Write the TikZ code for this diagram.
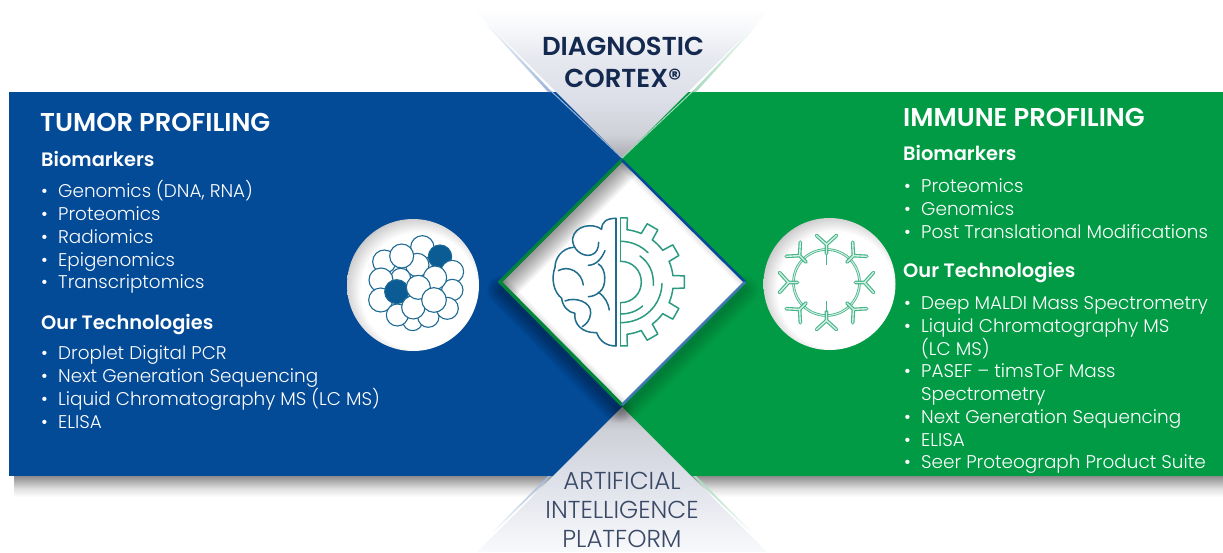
\documentclass[tikz,border=0pt]{standalone}
\usepackage{fontspec}
\setmainfont{Poppins Light}[BoldFont={Poppins SemiBold}]
\definecolor{bluefill}{HTML}{034A97}
\definecolor{greenfill}{HTML}{029B45}
\definecolor{navy}{HTML}{14294F}
\definecolor{slate}{HTML}{3A4A66}
\definecolor{iconblue}{HTML}{1F6C8C}
\definecolor{icongreen}{HTML}{2B9A80}
\definecolor{cellline}{HTML}{1E6A95}
\definecolor{celldark}{HTML}{0B5B94}
\definecolor{edgeblue}{HTML}{9DB5D8}
\definecolor{edgegreen}{HTML}{A5D8BC}
\definecolor{abouter}{HTML}{45B58A}
\definecolor{abinner}{HTML}{D5EFE3}
\definecolor{triA}{HTML}{A9A9AF}
\definecolor{triB}{HTML}{CFD1D8}
\definecolor{triC}{HTML}{DCDFE8}
\definecolor{triD}{HTML}{E6E8EF}
\definecolor{triE}{HTML}{F8F9FB}
\pgfdeclareverticalshading{topfade}{100bp}{color(0bp)=(triA); color(25bp)=(triA); color(32.7bp)=(triB); color(44.3bp)=(triC); color(57.7bp)=(triD); color(69bp)=(triE); color(75bp)=(white); color(100bp)=(white)}
\pgfdeclareverticalshading{botfade}{100bp}{color(0bp)=(white); color(25bp)=(triE); color(36bp)=(triD!70!white); color(51bp)=(triC); color(67bp)=(triB); color(75bp)=(triA); color(100bp)=(triA)}
\pgfdeclareverticalshading{undershadow}{100bp}{color(0bp)=(white); color(25bp)=(white); color(45bp)=(white!88!black); color(75bp)=(white!55!black); color(100bp)=(white!55!black)}
\pgfdeclareradialshading{wellshade}{\pgfpoint{4bp}{-4bp}}{color(0bp)=(white); color(22bp)=(white); color(27bp)=(white!82!black); color(31bp)=(white!58!black); color(50bp)=(white!58!black)}
\tikzset{
  lst/.style={anchor=base west,text=white,inner sep=0pt,font=\fontsize{18.4}{20}\selectfont},
  subhead/.style={anchor=base west,text=white,inner sep=0pt,font=\fontsize{19.4}{20}\selectfont\bfseries},
  ttl/.style={anchor=base west,text=white,inner sep=0pt,font=\fontsize{25.8}{26}\selectfont\bfseries},
  capbold/.style={anchor=base,text=navy,inner sep=0pt,font=\fontsize{26}{26}\selectfont\bfseries},
  capthin/.style={anchor=base,text=slate,inner sep=0pt,font=\fontsize{24.5}{26}\selectfont},
  brainline/.style={draw=iconblue,line width=1.5pt,line cap=round,line join=round},
  gearline/.style={draw=icongreen,line width=1.5pt,line cap=round,line join=round},
  cell/.style={draw=cellline,line width=1.1pt,fill=white},
  darkcell/.style={draw=cellline,line width=1.1pt,fill=celldark}
}
\newcommand{\bul}{\makebox[17pt][l]{•}}
\begin{document}
\begin{tikzpicture}[x=1pt,y=-1pt]
\useasboundingbox (0,0) rectangle (1223,552);
% shadow beneath panels
\shade[shading=undershadow] (14,476) rectangle (1223,497);
% panels
\fill[bluefill] (9,92) rectangle (623,476);
\fill[greenfill] (622,92) rectangle (1223,476);
% top triangle
\shade[shading=topfade] (472,8) -- (772,8) -- (622,158) -- cycle;
\shade[top color=white,bottom color=edgeblue] (484,20) -- (552,92) -- (548,92) -- (482,20) -- cycle;
\shade[top color=white,bottom color=edgegreen] (760,20) -- (692,92) -- (696,92) -- (762,20) -- cycle;
\draw[edgeblue,line width=1pt] (551,91) -- (622,158);
\draw[edgegreen,line width=1pt] (693,91) -- (622,158);
% bottom triangle
\shade[shading=botfade] (622,407) -- (767,552) -- (477,552) -- cycle;
\shade[top color=edgeblue,bottom color=white] (551,476) -- (548,476) -- (490,534) -- (492,534) -- cycle;
\shade[top color=edgegreen,bottom color=white] (693,476) -- (696,476) -- (754,534) -- (752,534) -- cycle;
% diamond shadow
\foreach \w in {3,6,...,30}{
  \draw[black,opacity=.035,line width=\w pt,line cap=round] (502,290) -- (618,408);
  \draw[black,opacity=.015,line width=\w pt,line cap=round] (626,408) -- (744,290);
}
% diamond
\fill[white] (500,282) -- (622,160) -- (745,282) -- (622,405) -- cycle;
\begin{scope}
  \clip (500,282) -- (622,160) -- (745,282) -- (622,405) -- cycle;
  \foreach \w in {3,6,...,42}{
    \draw[black,opacity=.035,line width=\w pt] (500,282) -- (622,160);
  }
  \foreach \w in {2,4,...,14}{
    \draw[black,opacity=.02,line width=\w pt] (622,160) -- (745,282);
    \draw[black,opacity=.025,line width=\w pt] (500,282) -- (622,405);
  }
\end{scope}
\draw[greenfill!85!black,line width=3.4pt,line join=miter] (622,160) -- (500,282) -- (622,405);
\draw[bluefill,line width=2.6pt] (622,160) -- (745,282);
\draw[bluefill!75!white,line width=2.6pt] (745,282) -- (622,405);
% brain icon
\begin{scope}[shift={(490,150)},x=.3333pt,y=-.3333pt]
  \draw[brainline] (378,205) .. controls (350,205) and (335,215) .. (335,238)
    .. controls (310,218) and (255,225) .. (248,265)
    .. controls (245,295) and (275,322) .. (303,315)
    .. controls (320,310) and (326,295) .. (326,277);
  \draw[brainline] (250,292) .. controls (215,295) and (195,325) .. (195,352)
    .. controls (183,385) and (190,425) .. (215,445)
    .. controls (218,470) and (235,487) .. (255,490)
    .. controls (250,520) and (275,550) .. (320,548)
    .. controls (330,575) and (350,588) .. (378,588);
  \draw[brainline] (205,362) .. controls (235,345) and (275,365) .. (280,405);
  \draw[brainline] (225,453) .. controls (255,440) and (305,455) .. (302,490) .. controls (300,510) and (290,522) .. (277,530);
  \draw[brainline] (345,302) .. controls (335,325) and (320,345) .. (295,346);
  \draw[brainline] (325,342) .. controls (350,355) and (350,410) .. (330,425) .. controls (318,436) and (305,440) .. (295,440);
  \draw[brainline] (325,427) .. controls (345,440) and (355,460) .. (358,480);
  \draw[brainline] (378,205) -- (378,588);
  % gear
  \begin{scope}[shift={(392,396)}]
    \foreach \a in {-60,-30,0,30,60}{
      \draw[gearline] (\a-7:158) -- (\a-5.5:192) -- (\a+5.5:192) -- (\a+7:158);
    }
    \foreach \a in {-90,-60,-30,0,30,60}{
      \draw[gearline] (\a+7:158) arc[start angle=\a+7,delta angle=16,radius=158];
    }
    \draw[gearline] (0,-192) -- (20,-192) -- (-83:158);
    \draw[gearline] (0,192) -- (20,192) -- (83:158);
    \draw[gearline] (0,-192) -- (0,-62);
    \draw[gearline] (0,62) -- (0,192);
    \draw[gearline] (0,-62) .. controls (35,-62) and (62,-35) .. (62,0) .. controls (62,35) and (35,62) .. (0,62);
    \draw[gearline] (0,-122) .. controls (30,-122) and (60,-110) .. (82,-88);
    \draw[gearline] (58,-78) .. controls (85,-58) and (100,-30) .. (98,10);
    \draw[gearline] (124,5) .. controls (122,70) and (70,122) .. (0,122);
    \draw[gearline] (66,72) .. controls (48,88) and (25,96) .. (0,96);
  \end{scope}
\end{scope}
% left well
\shade[shading=wellshade] (413,285) circle[radius=66];
\begin{scope}[shift={(340,150)},x=.3333pt,y=-.3333pt]
  \foreach \cx/\cy/\r in {133/335/35,247/292/35}{\draw[cell] (\cx,\cy) circle[radius=\r];}
  \draw[darkcell] (300,320) circle[radius=35];
  \foreach \cx/\cy/\r in {232/345/35,185/318/36,337/365/34,182/385/30,123/390/36,337/420/32,122/450/36}{\draw[cell] (\cx,\cy) circle[radius=\r];}
  \draw[darkcell] (170,425) circle[radius=36];
  \foreach \cx/\cy/\r in {218/512/30,172/495/33,265/500/32,322/475/33,220/472/35,285/383/35,235/412/36,282/450/37}{\draw[cell] (\cx,\cy) circle[radius=\r];}
\end{scope}
% right well
\shade[shading=wellshade] (829.5,284) circle[radius=66];
\begin{scope}[shift={(826.5,282.5)}]
  \draw[abouter,line width=2.6pt] (0,0) circle[radius=33];
  \draw[abinner,line width=1pt] (0,0) circle[radius=33];
  \foreach \a in {0,45,...,315}{
    \begin{scope}[rotate=\a]
      \draw[abouter,line width=3.6pt,line cap=round,line join=round] (29,0) -- (38,0) -- (47,-10) (38,0) -- (47,10);
      \draw[abinner,line width=1.4pt,line cap=round,line join=round] (29,0) -- (38,0) -- (47,-10) (38,0) -- (47,10);
    \end{scope}
  }
  \draw[abouter,line width=1.2pt] (0,-29) -- (0,-18);
  \draw[abouter,line width=1.2pt] (0,29) -- (0,18);
\end{scope}
% captions
\node[capbold] (capa) at (623,55) {DIAGNOSTIC};
\node[capbold] (capb) at (623,87) {CORTEX®};
\node[capthin] (capc) at (622,489) {ARTIFICIAL};
\node[capthin] (capd) at (622,518) {INTELLIGENCE};
\node[capthin] (cape) at (622,547) {PLATFORM};
% left text
\node[ttl] (lt) at (40,131) {TUMOR PROFILING};
\node[subhead] (lb) at (41,166) {Biomarkers};
\node[lst] (l1) at (41,197) {\bul Genomics (DNA, RNA)};
\node[lst] (l2) at (41,220) {\bul Proteomics};
\node[lst] (l3) at (41,243) {\bul Radiomics};
\node[lst] (l4) at (41,266) {\bul Epigenomics};
\node[lst] (l5) at (41,288) {\bul Transcriptomics};
\node[subhead] (lo) at (41,329) {Our Technologies};
\node[lst] (l6) at (41,359) {\bul Droplet Digital PCR};
\node[lst] (l7) at (41,382) {\bul Next Generation Sequencing};
\node[lst] (l8) at (41,405) {\bul Liquid Chromatography MS (LC MS)};
\node[lst] (l9) at (41,428) {\bul ELISA};
% right text
\node[ttl] (rt) at (903,126) {IMMUNE PROFILING};
\node[subhead] (rb) at (903,160) {Biomarkers};
\node[lst] (r1) at (904,192) {\bul Proteomics};
\node[lst] (r2) at (904,215) {\bul Genomics};
\node[lst] (r3) at (904,238) {\bul Post Translational Modifications};
\node[subhead] (ro) at (903,277) {Our Technologies};
\node[lst] (r4) at (904,309) {\bul Deep MALDI Mass Spectrometry};
\node[lst] (r5) at (904,332) {\bul Liquid Chromatography MS};
\node[lst] (r6) at (921,355) {(LC MS)};
\node[lst] (r7) at (904,377) {\bul PASEF – timsToF Mass};
\node[lst] (r8) at (921,400) {Spectrometry};
\node[lst] (r9) at (904,423) {\bul Next Generation Sequencing};
\node[lst] (r10) at (904,446) {\bul ELISA};
\node[lst] (r11) at (904,468) {\bul Seer Proteograph Product Suite};
\end{tikzpicture}
\end{document}
